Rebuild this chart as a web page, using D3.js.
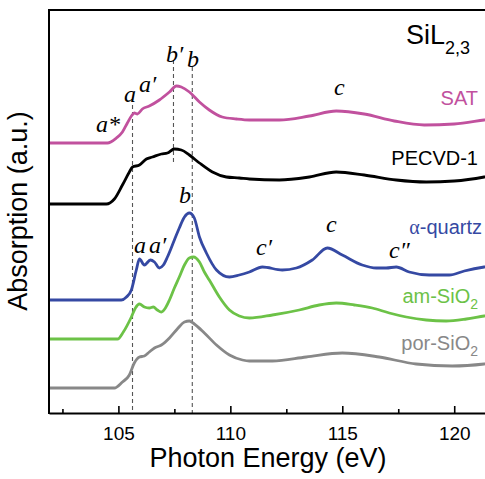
<!DOCTYPE html>
<meta charset="utf-8">
<title>SiL2,3 XANES</title>
<script src="https://d3js.org/d3.v7.min.js"></script>
<style>
  body { margin: 0; background: #fff; }
  text { font-family: "Liberation Sans", Arial, sans-serif; }
  .lbl { font-family: "Liberation Serif", "Times New Roman", serif; font-style: italic; font-size: 24px; }
</style>
<body>
<div id="chart"></div>
<script>
// photon energy (eV) and absorption (a.u., curves stacked with offsets)
var satE = [101.9, 104.51, 104.91, 105.18, 105.40, 105.58, 105.71, 105.85, 106.07, 106.38, 106.83, 107.28, 107.59, 107.81, 108.17, 108.62, 109.06, 109.64, 110.27, 110.85, 112.19, 113.53, 114.73, 115.98, 117.32, 118.66, 120.0, 121.34, 122];
var satA = [27.0, 27.0, 27.5, 28.1, 29.0, 29.7, 30.0, 29.9, 30.4, 30.7, 31.3, 32.1, 32.7, 32.6, 32.1, 31.1, 30.3, 29.6, 29.4, 29.3, 29.3, 29.7, 30.2, 29.9, 29.2, 28.8, 28.9, 29.3, 29.5];

var pecE = [101.9, 104.46, 104.82, 105.18, 105.49, 105.63, 105.94, 106.25, 106.52, 106.92, 107.19, 107.5, 107.81, 108.17, 108.62, 109.2, 109.82, 110.4, 110.85, 112.19, 113.53, 114.73, 115.98, 117.41, 118.75, 120.0, 121.34, 122];
var pecA = [20.9, 20.9, 21.4, 22.8, 24.1, 24.6, 24.8, 25.4, 25.6, 25.9, 26.0, 26.4, 26.3, 25.8, 25.0, 24.1, 23.6, 23.5, 23.4, 23.3, 23.6, 24.1, 23.8, 23.3, 23.1, 23.2, 23.6, 23.9];

var qtzE = [101.9, 105.13, 105.36, 105.58, 105.8, 105.94, 106.16, 106.43, 106.61, 106.83, 107.01, 107.19, 107.5, 107.72, 107.95, 108.17, 108.39, 108.62, 108.93, 109.38, 109.96, 110.4, 110.85, 111.43, 112.32, 112.95, 113.66, 114.33, 115.0, 115.89, 116.52, 116.96, 117.41, 117.99, 118.88, 119.78, 120.45, 121.34, 122];
var qtzA = [11.3, 11.3, 11.6, 12.3, 14.3, 15.4, 14.8, 15.3, 15.1, 14.5, 14.8, 15.6, 17.3, 18.5, 19.6, 20.0, 19.5, 17.6, 16.0, 14.3, 13.6, 13.8, 14.1, 14.6, 14.3, 14.5, 15.3, 16.5, 15.8, 14.8, 14.5, 14.5, 14.6, 14.1, 13.8, 13.8, 14.2, 14.6, 14.8];

var amE = [101.9, 104.96, 105.22, 105.58, 105.76, 105.94, 106.16, 106.38, 106.56, 106.74, 106.92, 107.1, 107.28, 107.5, 107.72, 107.95, 108.17, 108.35, 108.62, 108.84, 109.06, 109.51, 109.96, 110.4, 110.85, 111.88, 113.08, 113.97, 114.73, 115.54, 116.34, 117.1, 117.86, 118.75, 119.64, 120.54, 121.34, 122];
var amA = [7.4, 7.4, 8.1, 9.6, 10.5, 10.9, 10.6, 10.5, 10.6, 10.3, 10.1, 10.5, 11.3, 12.5, 13.6, 14.8, 15.5, 15.6, 15.1, 14.1, 13.3, 11.6, 10.3, 9.7, 9.5, 9.8, 10.3, 10.8, 11.0, 10.8, 10.5, 10.0, 9.6, 9.3, 9.2, 9.4, 9.7, 9.9];

var porE = [101.9, 104.82, 105.18, 105.49, 105.71, 105.94, 106.16, 106.38, 106.61, 106.92, 107.28, 107.63, 107.95, 108.17, 108.39, 108.84, 109.38, 109.96, 110.54, 110.85, 111.88, 113.39, 115.0, 116.65, 118.3, 119.91, 121.34, 122];
var porA = [2.5, 2.5, 3.1, 3.8, 5.0, 5.6, 5.7, 6.1, 6.5, 6.8, 7.5, 8.4, 9.1, 9.2, 8.9, 8.0, 6.8, 5.8, 5.3, 5.2, 5.2, 5.6, 6.0, 5.6, 4.9, 4.7, 4.9, 5.1];

var seriesNames = ["SAT", "PECVD-1", "α-quartz", "am-SiO2", "por-SiO2"];
var seriesColors = ["#c1519e", "#000000", "#3549a3", "#6cc247", "#888888"];

var majorTicks = [105, 110, 115, 120];
var minorTicks = [102.5, 107.5, 112.5, 117.5];
var markerEnergies = [105.63, 107.46, 108.3];   // a, b', b

var width = 485, height = 479;
var svg = d3.select("#chart").append("svg")
    .attr("width", width).attr("height", height);

var x = d3.scaleLinear().domain([101.9, 122]).range([49, 499]);
var y = d3.scaleLinear().domain([0, 40.3]).range([413, 10]);

// dashed guide lines
var guides = [
  { e: markerEnergies[0], top: 105 },
  { e: markerEnergies[1], top: 60, bottom: 163 },
  { e: markerEnergies[2], top: 67 }
];
svg.append("g").selectAll("line").data(guides).enter().append("line")
    .attr("x1", function (d) { return x(d.e); })
    .attr("x2", function (d) { return x(d.e); })
    .attr("y1", function (d) { return d.top; })
    .attr("y2", function (d) { return d.bottom || 413; })
    .attr("stroke", "#555").attr("stroke-width", 1.1)
    .attr("stroke-dasharray", "4,3");

// curves
var curves = [[satE, satA], [pecE, pecA], [qtzE, qtzA], [amE, amA], [porE, porA]];
var line = d3.line()
    .x(function (d) { return x(d[0]); })
    .y(function (d) { return y(d[1]); })
    .curve(d3.curveMonotoneX);

svg.append("g").selectAll("path").data(curves).enter().append("path")
    .attr("d", function (c) { return line(d3.zip(c[0], c[1])); })
    .attr("fill", "none")
    .attr("stroke", function (c, i) { return seriesColors[i]; })
    .attr("stroke-width", 2.8)
    .attr("stroke-linejoin", "round");

// axes
var xAxis = svg.append("g")
    .attr("transform", "translate(0,413)")
    .call(d3.axisBottom(x).tickValues(majorTicks).tickSize(-7).tickSizeOuter(0).tickPadding(13.5));
xAxis.select(".domain").attr("stroke-width", 2);
xAxis.selectAll(".tick line").attr("stroke-width", 1.6);
xAxis.selectAll("text").attr("font-size", 19).attr("fill", "#000")
    .attr("font-family", "Liberation Sans, Arial, sans-serif");

var xMinor = svg.append("g")
    .attr("transform", "translate(0,413)")
    .call(d3.axisBottom(x).tickValues(minorTicks).tickSize(-4).tickSizeOuter(0).tickFormat(""));
xMinor.select(".domain").remove();
xMinor.selectAll(".tick line").attr("stroke-width", 1.6);

svg.append("line").attr("x1", 49).attr("x2", 49).attr("y1", 9).attr("y2", 414)
    .attr("stroke", "#000").attr("stroke-width", 2);
svg.append("line").attr("x1", 48).attr("x2", 485).attr("y1", 10).attr("y2", 10)
    .attr("stroke", "#000").attr("stroke-width", 2);

// axis titles
svg.append("text").attr("x", 268).attr("y", 467)
    .attr("text-anchor", "middle").attr("font-size", 27)
    .text("Photon Energy (eV)");
svg.append("text")
    .attr("transform", "translate(27,211) rotate(-90)")
    .attr("text-anchor", "middle").attr("font-size", 27)
    .text("Absorption (a.u.)");

// SiL2,3 label
var sil = svg.append("text").attr("x", 406).attr("y", 44).attr("font-size", 27);
sil.append("tspan").text("SiL");
sil.append("tspan").attr("font-size", 18).attr("dy", 10).text("2,3");

// series names
var nameY = [105, 165, 234, 303, 350];
var names = svg.append("g").selectAll("text").data(seriesNames).enter().append("text")
    .attr("x", function (d, i) { return i === 2 ? 482 : 478; })
    .attr("y", function (d, i) { return nameY[i]; })
    .attr("text-anchor", "end")
    .attr("font-size", 20)
    .attr("fill", function (d, i) { return seriesColors[i]; });
names.each(function (d) {
  var t = d3.select(this);
  if (d.slice(-1) === "2") {
    t.append("tspan").text(d.slice(0, -1));
    t.append("tspan").attr("font-size", 14).attr("dy", 6).text("2");
  } else if (d.charAt(0) === "α") {
    t.append("tspan").attr("font-family", "Liberation Serif, serif").text("α");
    t.append("tspan").text(d.slice(1));
  } else {
    t.text(d);
  }
});

// feature letters
var featText = ["a*", "a", "a′", "b′", "b", "c", "b", "a", "a′", "c′", "c", "c″"];
var featX = [96, 124, 139, 166, 187, 334, 179, 134, 149, 256, 326, 389];
var featY = [132, 102, 92, 62, 67, 95, 203, 253, 253, 255, 232, 258];
svg.append("g").selectAll("text").data(featText).enter().append("text")
    .attr("class", "lbl")
    .attr("x", function (d, i) { return featX[i]; })
    .attr("y", function (d, i) { return featY[i]; })
    .text(function (d) { return d; });
</script>
</body>
